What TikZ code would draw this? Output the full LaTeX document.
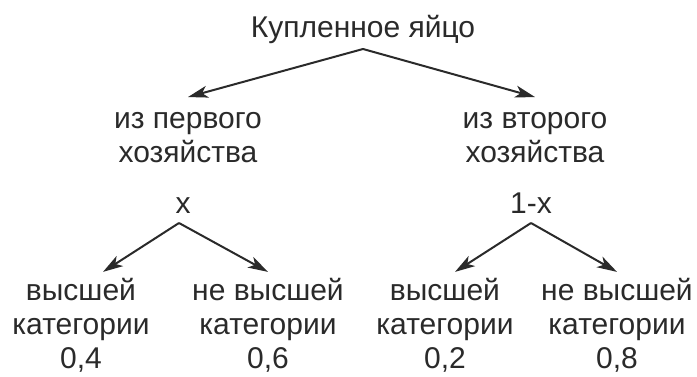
\documentclass[tikz,border=0pt]{standalone}
\usepackage{fontspec}
\setmainfont{Liberation Sans}
\usetikzlibrary{arrows.meta}
\definecolor{inkgray}{HTML}{2A2A2A}

\begin{document}
\begin{tikzpicture}[x=0.75pt,y=0.75pt,
    lbl/.style={align=center,text=inkgray,inner sep=2pt,
      font=\fontsize{22.5}{25.5}\selectfont},
    branch/.style={draw=inkgray,line width=1.5pt,
      -{Stealth[length=15pt,width=9pt,inset=4pt]}}]
  \useasboundingbox (0,0) rectangle (697,376);

  % Root
  \node[lbl,anchor=base] (egg) at (363,339) {Купленное яйцо};

  % Farms
  \node[lbl] (farmA) at (188,238.8) {из первого\\хозяйства};
  \node[lbl] (farmB) at (535,238.8) {из второго\\хозяйства};
  \draw[branch] ([yshift=-9pt]egg.base) -- ([yshift=9pt]farmA.north);
  \draw[branch] ([yshift=-9pt]egg.base) -- ([yshift=9pt]farmB.north);

  % Probabilities of the farms
  \node[lbl,anchor=base] (probA) at (183,163) {x};
  \node[lbl,anchor=base] (probB) at (531,163) {1-x};

  % Categories
  \node[lbl] (topA) at (81,50.8) {высшей\\категории\\0,4};
  \node[lbl] (lowA) at (268,50.8) {не высшей\\категории\\0,6};
  \node[lbl] (topB) at (445,50.8) {высшей\\категории\\0,2};
  \node[lbl] (lowB) at (617,50.8) {не высшей\\категории\\0,8};
  \draw[branch] ([xshift=-3pt,yshift=-7.5pt]probA.base) -- ([xshift=16.5pt,yshift=2.5pt]topA.north);
  \draw[branch] ([xshift=-3pt,yshift=-7.5pt]probA.base) -- ([yshift=2.5pt]lowA.north);
  \draw[branch] ([yshift=-7.5pt]probB.base) -- ([xshift=7.5pt,yshift=2.5pt]topB.north);
  \draw[branch] ([yshift=-7.5pt]probB.base) -- ([yshift=2.5pt]lowB.north);
\end{tikzpicture}
\end{document}
